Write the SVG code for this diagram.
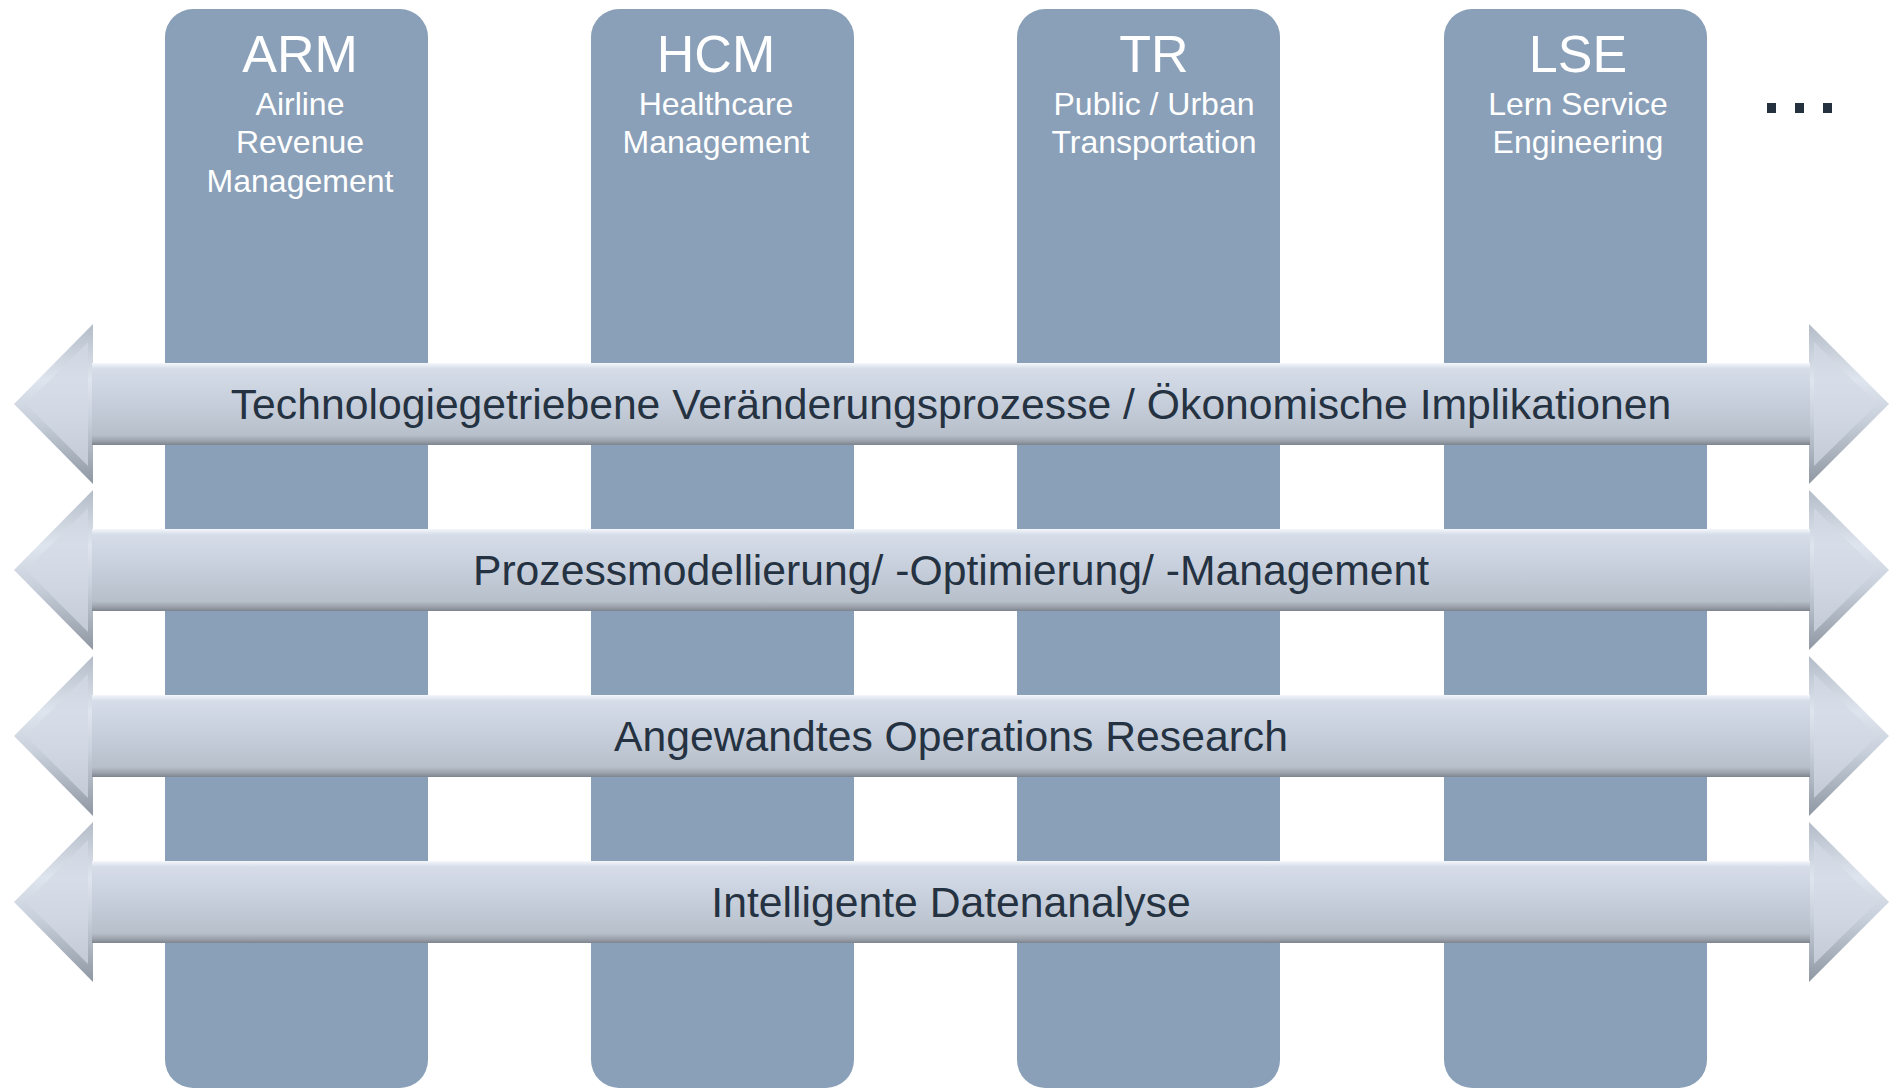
<svg xmlns="http://www.w3.org/2000/svg" width="1890" height="1089" viewBox="0 0 1890 1089">
<style>
.col{fill:#8aa0b8}
.abbr{font-family:"Liberation Sans",Arial,sans-serif;font-size:52px;fill:#fff;text-anchor:middle}
.sub{font-family:"Liberation Sans",Arial,sans-serif;font-size:32px;fill:#fff;text-anchor:middle}
.band{font-family:"Liberation Sans",Arial,sans-serif;font-size:42.7px;fill:#253241;text-anchor:middle}
</style>
<defs>
<linearGradient id="shaft" x1="0" y1="-41" x2="0" y2="41" gradientUnits="userSpaceOnUse">
<stop offset="0" stop-color="#f4f7fb"/>
<stop offset="0.07" stop-color="#d6dde9"/>
<stop offset="0.5" stop-color="#c6cedb"/>
<stop offset="0.88" stop-color="#b7bfca"/>
<stop offset="0.95" stop-color="#9ba2ac"/>
<stop offset="1" stop-color="#7d848d"/>
</linearGradient>
<linearGradient id="head" x1="0" y1="-80" x2="0" y2="80" gradientUnits="userSpaceOnUse">
<stop offset="0" stop-color="#b3bcc8"/>
<stop offset="0.35" stop-color="#dfe5ee"/>
<stop offset="0.6" stop-color="#c8d0dc"/>
<stop offset="1" stop-color="#8f97a2"/>
</linearGradient>
<g id="arrow">
<path d="M14,0 L93,-80 L93,80 Z" fill="url(#head)"/>
<path d="M26,0 L88,-62 L88,62 Z" fill="#d3dae5" opacity="0.7"/>
<path d="M1889,0 L1809,-80 L1809,80 Z" fill="url(#head)"/>
<path d="M1877,0 L1814,-62 L1814,62 Z" fill="#d3dae5" opacity="0.7"/>
<rect x="92" y="-41" width="1718" height="82" fill="url(#shaft)"/>
</g>
</defs>
<g id="columns">
<g id="col-arm"><rect class="col" x="165" y="9" width="263" height="1079" rx="28"/></g>
<g id="col-hcm"><rect class="col" x="591" y="9" width="263" height="1079" rx="28"/></g>
<g id="col-tr"><rect class="col" x="1017" y="9" width="263" height="1079" rx="28"/></g>
<g id="col-lse"><rect class="col" x="1444" y="9" width="263" height="1079" rx="28"/></g>
</g>
<g id="labels">
<g id="lab-arm"><text class="abbr" x="300" y="72">ARM</text>
<text class="sub" x="300" y="115">Airline</text><text class="sub" x="300" y="153">Revenue</text><text class="sub" x="300" y="192">Management</text></g>
<g id="lab-hcm"><text class="abbr" x="716" y="72">HCM</text>
<text class="sub" x="716" y="115">Healthcare</text><text class="sub" x="716" y="153">Management</text></g>
<g id="lab-tr"><text class="abbr" x="1154" y="72">TR</text>
<text class="sub" x="1154" y="115">Public / Urban</text><text class="sub" x="1154" y="153">Transportation</text></g>
<g id="lab-lse"><text class="abbr" x="1578" y="72">LSE</text>
<text class="sub" x="1578" y="115">Lern Service</text><text class="sub" x="1578" y="153">Engineering</text></g>
</g>
<g id="more">
<rect x="1767" y="103" width="9" height="10" fill="#26313f"/>
<rect x="1795" y="103" width="9" height="10" fill="#26313f"/>
<rect x="1823" y="103" width="9" height="10" fill="#26313f"/>
</g>
<g id="connectors">
<g id="band1"><use href="#arrow" transform="translate(0,404)"/><text class="band" x="951" y="419">Technologiegetriebene Veränderungsprozesse / Ökonomische Implikationen</text></g>
<g id="band2"><use href="#arrow" transform="translate(0,570)"/><text class="band" x="951" y="585">Prozessmodellierung/ -Optimierung/ -Management</text></g>
<g id="band3"><use href="#arrow" transform="translate(0,736)"/><text class="band" x="951" y="751">Angewandtes Operations Research</text></g>
<g id="band4"><use href="#arrow" transform="translate(0,902)"/><text class="band" x="951" y="917">Intelligente Datenanalyse</text></g>
</g>
</svg>
